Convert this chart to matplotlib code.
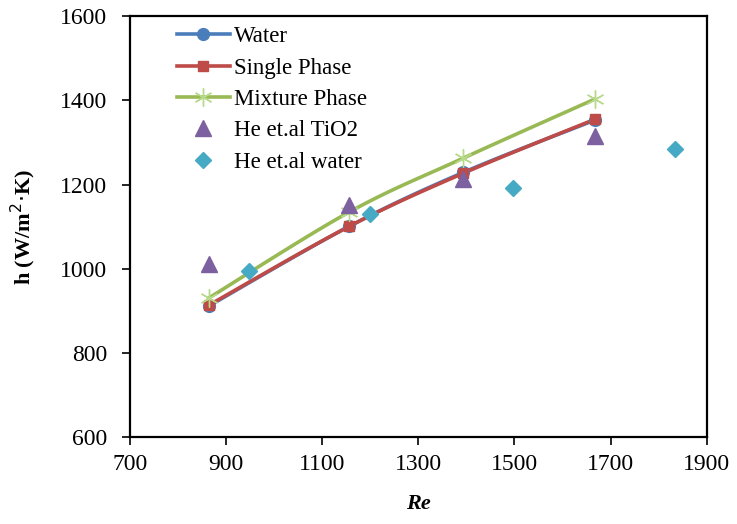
import numpy as np
import matplotlib.pyplot as plt

plt.rcParams['font.family'] = ['Liberation Serif', 'DejaVu Serif']

# Reynolds numbers and heat transfer coefficients
re_model = [864, 1157, 1394, 1667]
h_water = [911, 1101, 1229, 1353]
h_single = [913, 1101, 1227, 1355]
h_mixture = [930, 1135, 1263, 1403]

re_he_tio2 = [864, 1157, 1394, 1667]
h_he_tio2 = [1011, 1151, 1213, 1315]

re_he_water = [949, 1199, 1498, 1833]
h_he_water = [994, 1130, 1191, 1284]

XLIM = (700, 1900)
YLIM = (600, 1600)


def smooth(xs, ys, n=30):
    """Catmull-Rom style smoothed curve through the given points."""
    x = (np.asarray(xs, float) - XLIM[0]) / (XLIM[1] - XLIM[0])
    y = (np.asarray(ys, float) - YLIM[0]) / (YLIM[1] - YLIM[0])
    p = np.column_stack([x, y])
    pts = np.vstack([p[0], p, p[-1]])
    out = []
    t = np.linspace(0, 1, n)[:, None]
    for i in range(1, len(pts) - 2):
        p0, p1, p2, p3 = pts[i - 1], pts[i], pts[i + 1], pts[i + 2]
        c1 = p1 + (p2 - p0) / 6
        c2 = p2 - (p3 - p1) / 6
        seg = ((1 - t) ** 3) * p1 + 3 * ((1 - t) ** 2) * t * c1 \
            + 3 * (1 - t) * t ** 2 * c2 + t ** 3 * p2
        out.append(seg if i == 1 else seg[1:])
    c = np.vstack(out)
    return (c[:, 0] * (XLIM[1] - XLIM[0]) + XLIM[0],
            c[:, 1] * (YLIM[1] - YLIM[0]) + YLIM[0])


fig = plt.figure(figsize=(7.37, 5.24), dpi=100)
ax = fig.add_axes([0.176, 0.166, 0.783, 0.803])

series = [
    (h_water, '#4A7EBB', 'o', 8.5, 'Water', {}),
    (h_single, '#BE4B48', 's', 7, 'Single Phase', {}),
    (h_mixture, '#98B954', (6, 2, 0), 13, 'Mixture Phase',
     dict(mew=1.0, mec='#B6D98A')),
]
for hv, col, mk, ms, lab, extra in series:
    sx, sy = smooth(re_model, hv)
    ax.plot(sx, sy, color=col, lw=2.6, zorder=2)
    ax.plot(re_model, hv, ls='none', color=col, marker=mk, ms=ms, zorder=3,
            **extra)
    # legend proxy: line with centred marker
    ax.plot([], [], color=col, lw=2.6, marker=mk, ms=ms, label=lab, **extra)

ax.plot(re_he_tio2, h_he_tio2, ls='none', color='#7D60A0', marker='^', ms=11,
        label='He et.al TiO2', zorder=4)
ax.plot(re_he_water, h_he_water, ls='none', color='#46AAC5', marker='D', ms=8,
        label='He et.al water', zorder=4)

ax.set_xlim(*XLIM)
ax.set_ylim(*YLIM)
ax.set_xticks(range(700, 1901, 200))
ax.set_yticks(range(600, 1601, 200))
ax.tick_params(labelsize=17, direction='out', length=6, width=1.2)
ax.tick_params(axis='y', pad=10)
ax.tick_params(axis='x', pad=6)
for s in ax.spines.values():
    s.set_linewidth(1.6)

ax.set_xlabel('Re', fontsize=16, fontweight='bold', fontstyle='italic', labelpad=14)
ax.set_ylabel('h (W/m$^{2}$$\\cdot$K)', fontsize=16, fontweight='bold', labelpad=16)

ax.legend(loc='upper left', bbox_to_anchor=(0.066, 0.998), frameon=False,
          fontsize=16.5, handlelength=2.3, handletextpad=0.2, labelspacing=0.45,
          borderaxespad=0)

fig.savefig('out.png', dpi=100)
